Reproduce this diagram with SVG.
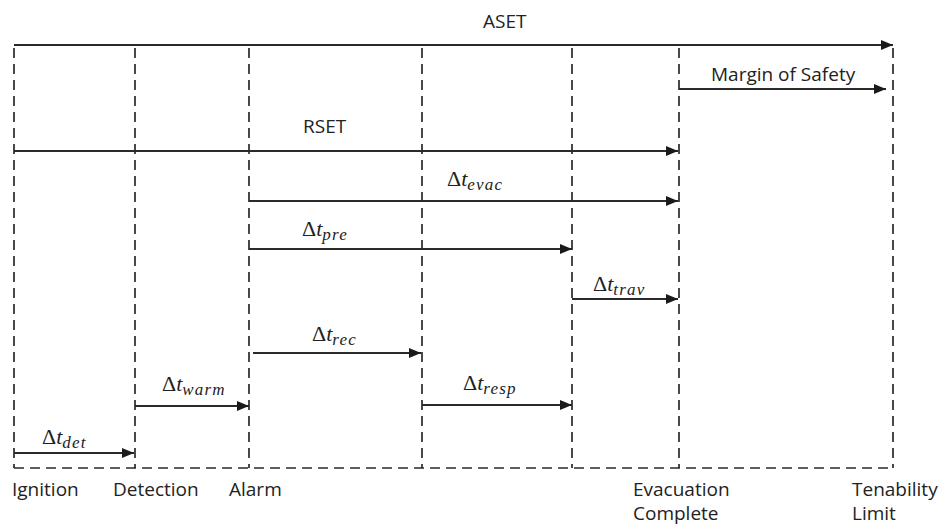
<svg xmlns="http://www.w3.org/2000/svg" width="944" height="527" viewBox="0 0 944 527">
<defs>
<marker id="ah" markerUnits="userSpaceOnUse" markerWidth="13" markerHeight="11" refX="12" refY="5" orient="auto">
<path d="M0,0 L12,5 L0,10 z" fill="#1a1a1a"/>
</marker>
<style>
.dash{stroke:#2a2a2a;stroke-width:1.7;stroke-dasharray:10 6;fill:none}
.arr{stroke:#2a2a2a;stroke-width:1.8;fill:none;marker-end:url(#ah)}
.lbl{font-family:"Open Sans","Liberation Sans",sans-serif;font-size:19px;fill:#222}
.m{font-family:"Liberation Serif","DejaVu Serif",serif;font-size:22px;fill:#222}
.mi{font-style:italic}
.sub{font-style:italic;font-size:17px;letter-spacing:1.2px}
</style>
</defs>
<rect width="944" height="527" fill="#fff"/>
<g id="gridlines">
<line class="dash" x1="14" y1="48" x2="14" y2="468"/>
<line class="dash" x1="135" y1="48" x2="135" y2="468"/>
<line class="dash" x1="249" y1="48" x2="249" y2="468"/>
<line class="dash" x1="422" y1="48" x2="422" y2="468"/>
<line class="dash" x1="572" y1="48" x2="572" y2="468"/>
<line class="dash" x1="679" y1="48" x2="679" y2="468"/>
<line class="dash" x1="893" y1="48" x2="893" y2="468"/>
<line class="dash" x1="14" y1="468" x2="893" y2="468"/>
</g>
<g id="connectors">
<line class="arr" x1="14" y1="45" x2="893" y2="45"/>
<line class="arr" x1="679" y1="89" x2="886" y2="89"/>
<line class="arr" x1="14" y1="151" x2="678" y2="151"/>
<line class="arr" x1="249" y1="201" x2="678" y2="201"/>
<line class="arr" x1="249" y1="249" x2="572" y2="249"/>
<line class="arr" x1="572" y1="299" x2="678" y2="299"/>
<line class="arr" x1="253" y1="353" x2="421" y2="353"/>
<line class="arr" x1="135" y1="406" x2="249" y2="406"/>
<line class="arr" x1="422" y1="405" x2="572" y2="405"/>
<line class="arr" x1="14" y1="453" x2="134" y2="453"/>
</g>
<g id="labels">
<text class="lbl" x="483" y="28">ASET</text>
<text class="lbl" x="711" y="81">Margin of Safety</text>
<text class="lbl" x="303" y="133">RSET</text>
<text class="m" x="447" y="186">Δ<tspan class="mi">t</tspan><tspan class="sub" dy="4">evac</tspan></text>
<text class="m" x="302" y="236">Δ<tspan class="mi">t</tspan><tspan class="sub" dy="4">pre</tspan></text>
<text class="m" x="593" y="291">Δ<tspan class="mi">t</tspan><tspan class="sub" dy="4">trav</tspan></text>
<text class="m" x="312" y="341">Δ<tspan class="mi">t</tspan><tspan class="sub" dy="4">rec</tspan></text>
<text class="m" x="162" y="391">Δ<tspan class="mi">t</tspan><tspan class="sub" dy="4">warm</tspan></text>
<text class="m" x="463" y="390">Δ<tspan class="mi">t</tspan><tspan class="sub" dy="4">resp</tspan></text>
<text class="m" x="42" y="444">Δ<tspan class="mi">t</tspan><tspan class="sub" dy="4">det</tspan></text>
<text class="lbl" x="12" y="496">Ignition</text>
<text class="lbl" x="113" y="496">Detection</text>
<text class="lbl" x="229" y="496">Alarm</text>
<text class="lbl" x="633" y="496">Evacuation</text>
<text class="lbl" x="633" y="520">Complete</text>
<text class="lbl" x="852" y="496">Tenability</text>
<text class="lbl" x="852" y="520">Limit</text>
</g>
</svg>
